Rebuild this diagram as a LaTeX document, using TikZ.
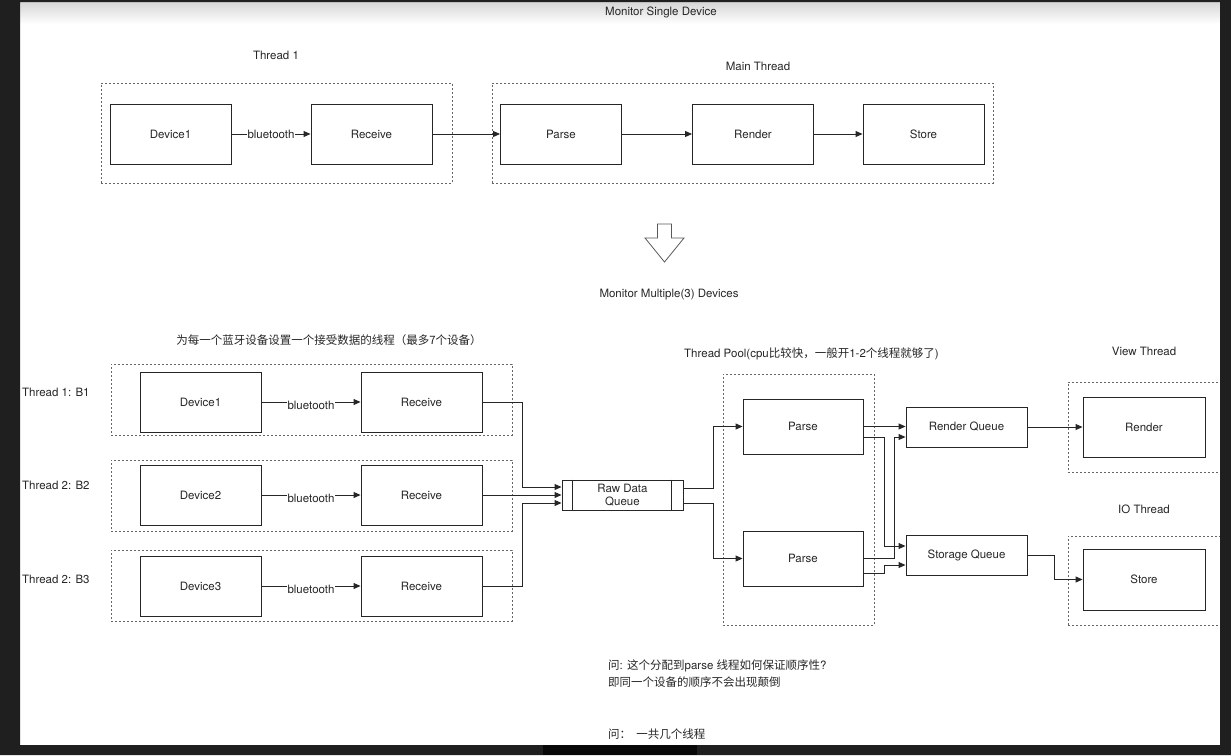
\documentclass[tikz,border=0pt]{standalone}
\usepackage{fontspec}
\setmainfont{TeX Gyre Heros}
\newfontfamily\cjk{Noto Sans CJK SC}
\usepackage{tikz}
\usetikzlibrary{arrows.meta, calc}
\definecolor{inkgray}{RGB}{38,38,38}
\definecolor{framegray}{RGB}{31,31,31}
\tikzset{
  box/.style={
    rectangle, draw=inkgray, line width=0.9pt,
    minimum width=121pt, minimum height=60pt, inner sep=0pt,
    text=inkgray, font=\fontsize{11.5}{13.5}\selectfont
  },
  qbox/.style={box, minimum height=40pt},
  group/.style={
    rectangle, draw=black!60, line width=0.8pt,
    dash pattern=on 2pt off 2pt, inner sep=0pt
  },
  txt/.style={inner sep=0pt, text=inkgray, font=\fontsize{11.5}{13.5}\selectfont},
  tag/.style={fill=white, inner sep=0.5pt, text=inkgray, font=\fontsize{11.5}{13.5}\selectfont},
  arrow/.style={line width=0.9pt, draw=inkgray, -{Triangle[length=7pt,width=6pt]}},
}

\begin{document}
\begin{tikzpicture}[x=1pt, y=-1pt]
  \useasboundingbox (0,0) rectangle (1231,755);
  \shade[top color=black!16, bottom color=white] (20,2) rectangle (1220,24);

  % single device
  \node (title1)  [txt] at (661,12)  {Monitor Single Device};
  \node (lblT1)   [txt] at (276,55)  {Thread 1};
  \node (lblMain) [txt] at (758,66)  {Main Thread};
  \node (grpT1)   [group, minimum width=351pt, minimum height=100pt] at (276.5,133) {};
  \node (grpMain) [group, minimum width=501pt, minimum height=100pt] at (742.5,133) {};
  \node (dev)     [box] at (170.5,134) {Device1};
  \node (recv)    [box] at (371.5,134) {Receive};
  \node (parse)   [box] at (561,134)   {Parse};
  \node (render)  [box] at (753,134)   {Render};
  \node (store)   [box] at (923.5,134) {Store};

  \draw [arrow] (dev)    -- node[tag] {bluetooth} (recv);
  \draw [arrow] (recv)   -- (parse);
  \draw [arrow] (parse)  -- (render);
  \draw [arrow] (render) -- (store);

  \draw [draw=black!65, line width=0.8pt, line join=miter]
    (657.5,224) -- (671.5,224) -- (671.5,238) -- (684,238) -- (664.5,262)
    -- (645,238) -- (657.5,238) -- cycle;

  % multiple devices
  \node (title2)  [txt] at (669,295) {Monitor Multiple(3) Devices};
  \node (lblRecv) [txt] at (329,340) {\cjk 为每一个蓝牙设备设置一个接受数据的线程（最多7个设备）};
  \node (lblB1)   [txt, anchor=west] at (22,392) {Thread 1: B1};
  \node (lblB2)   [txt, anchor=west] at (22,485) {Thread 2: B2};
  \node (lblB3)   [txt, anchor=west] at (22,579) {Thread 2: B3};
  \node (lblPool) [txt, anchor=west] at (684,354)
    {Thread Pool(cpu{\cjk 比较快，一般开}1-2{\cjk 个线程就够了})};
  \node (lblView) [txt] at (1144,351) {View Thread};
  \node (lblIO)   [txt] at (1144,509) {IO Thread};

  \node (grpB1)   [group, minimum width=401pt, minimum height=71pt]  at (311.5,399.5) {};
  \node (grpB2)   [group, minimum width=401pt, minimum height=71pt]  at (311.5,495.5) {};
  \node (grpB3)   [group, minimum width=401pt, minimum height=71pt]  at (311.5,585.5) {};
  \node (grpPool) [group, minimum width=151pt, minimum height=251pt] at (798.5,499.5) {};
  \node (grpView) [group, minimum width=162pt, minimum height=90pt]  at (1149,427) {};
  \node (grpIO)   [group, minimum width=162pt, minimum height=89pt]  at (1149,580.5) {};

  \node (devA)  [box] at (200.5,402) {Device1};
  \node (recvA) [box] at (421.5,402) {Receive};
  \node (devB)  [box] at (200.5,495) {Device2};
  \node (recvB) [box] at (421.5,495) {Receive};
  \node (devC)  [box] at (200.5,586) {Device3};
  \node (recvC) [box] at (421.5,586) {Receive};

  \node (rdq) [box, minimum height=30pt, align=center, font=\fontsize{11.5}{13}\selectfont]
    at (622.5,495) {Raw Data\\Queue};
  \draw [inkgray, line width=0.9pt] ($(rdq.north west)+(11,0)$) -- ($(rdq.south west)+(11,0)$);
  \draw [inkgray, line width=0.9pt] ($(rdq.north east)+(-12,0)$) -- ($(rdq.south east)+(-12,0)$);

  \node (parseA)  [box, minimum width=120pt, minimum height=55pt] at (803,426.5) {Parse};
  \node (parseB)  [box, minimum width=120pt, minimum height=55pt] at (803,558.5) {Parse};
  \node (rq)      [qbox] at (966.5,427) {Render Queue};
  \node (sq)      [qbox] at (966.5,555) {Storage Queue};
  \node (renderV) [box, minimum width=122pt] at (1144,427)   {Render};
  \node (storeIO) [box, minimum width=122pt, minimum height=61pt] at (1144,579.5) {Store};

  \draw [arrow] (devA) -- node[tag, yshift=-3pt] {bluetooth} (recvA);
  \draw [arrow] (devB) -- node[tag, yshift=-3pt] {bluetooth} (recvB);
  \draw [arrow] (devC) -- node[tag, yshift=-3pt] {bluetooth} (recvC);

  \draw [arrow] (recvA.east) -- ++(40,0) |- ([yshift=8pt]rdq.west);
  \draw [arrow] (recvB.east) -- (rdq.west);
  \draw [arrow] (recvC.east) -- ++(40,0) |- ([yshift=-8pt]rdq.west);

  \draw [arrow] ([yshift=7pt]rdq.east)  -- ++(30,0) |- (parseA.west);
  \draw [arrow] ([yshift=-8pt]rdq.east) -- ++(30,0) |- (parseB.west);

  \draw [arrow] (parseA.east) -- (parseA.east -| rq.west);
  \draw [arrow] ([yshift=-11pt]parseA.east) -- ++(21,0) |- ([yshift=9pt]sq.west);
  \draw [arrow] (parseB.east) -- ++(31,0) |- ([yshift=-10pt]rq.west);
  \draw [arrow] ([yshift=-15pt]parseB.east) -- ++(21,0) |- ([yshift=-10pt]sq.west);

  \draw [arrow] (rq) -- (renderV);
  \draw [arrow] (sq.east) -- ++(27,0) |- (storeIO.west);

  % questions
  \node (q1a) [txt, anchor=west] at (608,666)
    {{\cjk 问}: {\cjk 这个分配到}parse {\cjk 线程如何保证顺序性}?};
  \node (q1b) [txt, anchor=west] at (608,682) {\cjk 即同一个设备的顺序不会出现颠倒};
  \node (q2)  [txt, anchor=west] at (608,734) {\cjk 问：\ \ 一共几个线程};

  % window frame
  \fill [framegray, even odd rule] (0,0) rectangle (1231,755) (20,2) rectangle (1220,745);
  \fill [black!97] (543,745) rectangle (697,755);
\end{tikzpicture}
\end{document}
